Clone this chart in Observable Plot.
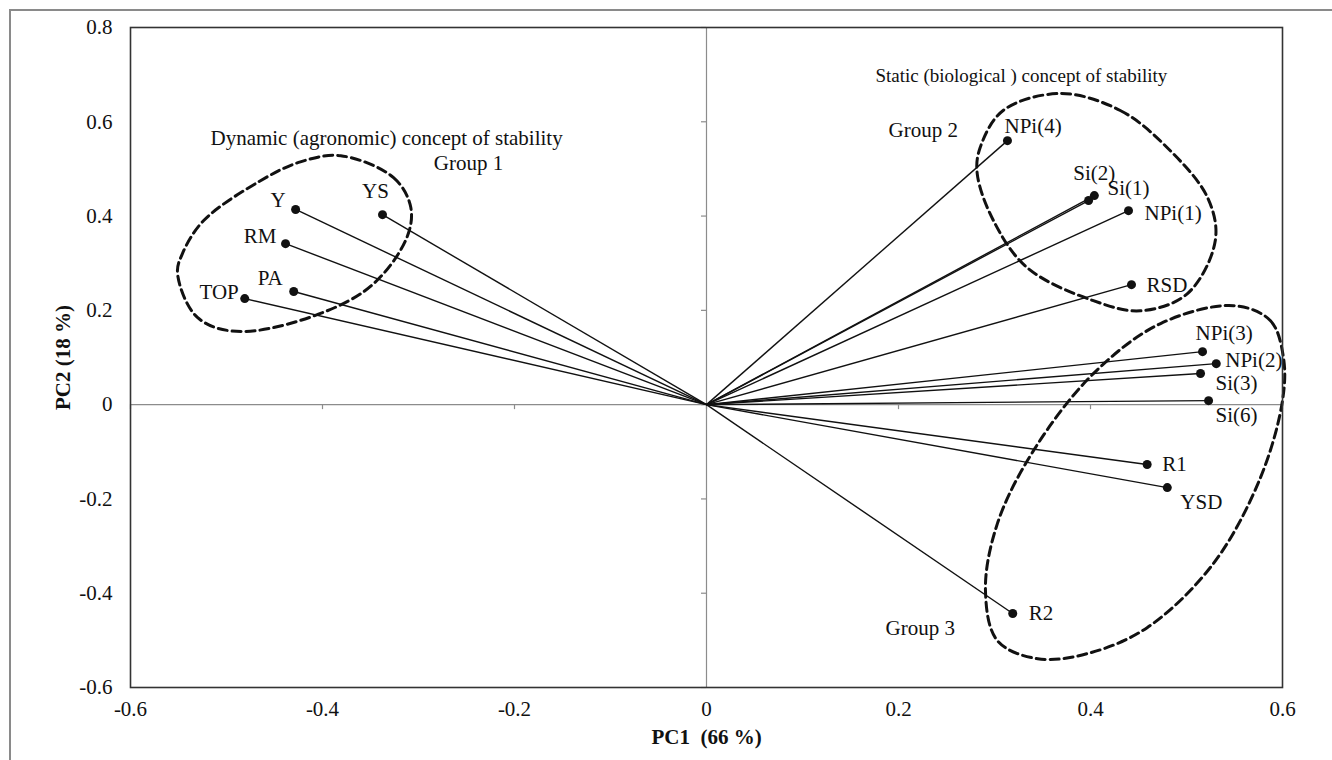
<!DOCTYPE html>
<html>
<head>
<meta charset="utf-8">
<script src="https://cdn.jsdelivr.net/npm/d3@7"></script>
<script src="https://cdn.jsdelivr.net/npm/@observablehq/plot@0.6"></script>
<style>
  html, body { margin: 0; padding: 0; background: #fff; overflow: hidden; }
  #wrap { position: relative; width: 1332px; height: 760px; }
  #border { position: absolute; left: 9px; top: 9px; width: 1400px; height: 800px;
            border-left: 2px solid #8a8a8a; border-top: 2px solid #8a8a8a; }
  #chart { position: absolute; left: 0; top: 0; }
</style>
</head>
<body>
<div id="wrap"><div id="border"></div><div id="chart"></div></div>
<script>
// ---- data ----
const names = ["Y","YS","RM","PA","TOP","NPi(4)","Si(2)","Si(1)","NPi(1)","RSD","NPi(3)","NPi(2)","Si(3)","Si(6)","R1","YSD","R2"];
const pc1 = [-0.428,-0.3375,-0.4385,-0.430,-0.481,0.3135,0.404,0.398,0.4396,0.4427,0.5167,0.531,0.5146,0.523,0.459,0.480,0.319];
const pc2 = [0.414,0.403,0.3415,0.240,0.225,0.560,0.4435,0.433,0.4115,0.2545,0.1124,0.087,0.066,0.0085,-0.127,-0.176,-0.443];

const xTicks = [-0.6,-0.4,-0.2,0,0.2,0.4,0.6];
const xTickLabels = ["-0.6","-0.4","-0.2","0","0.2","0.4","0.6"];
const yTicks = [-0.6,-0.4,-0.2,0,0.2,0.4,0.6,0.8];
const yTickLabels = ["-0.6","-0.4","-0.2","0","0.2","0.4","0.6","0.8"];

// group outlines (PC1, PC2)
const group1X = [-0.381,-0.326,-0.308,-0.3135,-0.360,-0.482,-0.530,-0.551,-0.546,-0.524,-0.4646,-0.423];
const group1Y = [0.528,0.4815,0.418,0.348,0.2355,0.155,0.1845,0.278,0.320,0.390,0.475,0.515];
const group2X = [0.3688,0.431,0.480,0.522,0.530,0.501,0.452,0.403,0.334,0.299,0.282,0.285,0.309];
const group2Y = [0.660,0.624,0.545,0.439,0.348,0.2355,0.199,0.2205,0.2906,0.390,0.490,0.545,0.624];
const group3X = [0.549,0.5875,0.601,0.600,0.577,0.528,0.459,0.397,0.345,0.303,0.2906,0.303,0.3406,0.403,0.473];
const group3Y = [0.210,0.178,0.0997,0.0085,-0.155,-0.337,-0.473,-0.528,-0.539,-0.5006,-0.3946,-0.2524,-0.0976,0.0658,0.172];

const noteTexts = ["Dynamic (agronomic) concept of stability","Group 1","Static (biological ) concept of stability","Group 2","Group 3"];
const noteX = [-0.5167,-0.284,0.176,0.1896,0.1865];
const noteY = [0.564,0.511,0.698,0.583,-0.475];
const noteSize = [21,21,19,21,21];

// ---- label placement (style) ----
const labelPlace = {
  "Y":["end",-10,-9], "YS":["middle",-7,-23], "RM":["end",-9,-7], "PA":["end",-11,-13], "TOP":["end",-6,-6],
  "NPi(4)":["start",-3,-14], "Si(2)":["start",-21,-22], "Si(1)":["start",19,-12], "NPi(1)":["start",16,3],
  "RSD":["start",15,1], "NPi(3)":["start",-7,-18], "NPi(2)":["start",9,-3], "Si(3)":["start",15,10],
  "Si(6)":["start",7,15], "R1":["start",15,0], "YSD":["start",13,15], "R2":["start",16,0]
};

const pts = names.map((n,i)=>({name:n, x:pc1[i], y:pc2[i]}));
const outline = (xs,ys)=>xs.map((x,i)=>({x, y:ys[i]}));
const groups = [outline(group1X,group1Y), outline(group2X,group2Y), outline(group3X,group3Y)];
const notes = noteTexts.map((t,i)=>({t, x:noteX[i], y:noteY[i], s:noteSize[i]}));

const ink = "#111";
const gray = "#8c8c8c";
const fs = 21;

const labelMarks = pts.map(p => {
  const [anchor, dx, dy] = labelPlace[p.name];
  return Plot.text([p], {x:"x", y:"y", text:"name", textAnchor:anchor, dx, dy, fill:ink, fontSize:fs, lineAnchor:"middle"});
});
const noteMarks = notes.map(n => Plot.text([n], {x:"x", y:"y", text:"t", textAnchor:"start", lineAnchor:"middle", fill:ink, fontSize:n.s}));

const chart = Plot.plot({
  width: 1332,
  height: 760,
  marginLeft: 130,
  marginRight: 50,
  marginTop: 27,
  marginBottom: 73,
  style: {fontFamily: "'Liberation Serif', 'Times New Roman', serif", fontSize: "21px", background: "transparent", color: ink},
  x: {domain: [-0.6, 0.6], label: null},
  y: {domain: [-0.6, 0.8], label: null},
  marks: [
    Plot.ruleY([0], {stroke: gray, strokeWidth: 1.2}),
    Plot.ruleX([0], {stroke: gray, strokeWidth: 1.2}),
    Plot.ruleX(xTicks, {x: d=>d, y1: 0, y2: 0, insetBottom: -5, stroke: gray, strokeWidth: 1.2}),
    Plot.ruleY(yTicks, {y: d=>d, x1: 0, x2: 0, insetLeft: -5, stroke: gray, strokeWidth: 1.2}),
    Plot.axisX({ticks: xTicks, tickFormat: d => xTickLabels[xTicks.indexOf(d)], tickSize: 0, tickPadding: 14, fontSize: fs, fill: ink}),
    Plot.axisY({ticks: yTicks, tickFormat: d => yTickLabels[yTicks.indexOf(d)], tickSize: 0, tickPadding: 18, fontSize: fs, fill: ink}),
    Plot.link(pts, {x1: () => 0, y1: () => 0, x2: "x", y2: "y", stroke: ink, strokeWidth: 1.4}),
    Plot.dot(pts, {x: "x", y: "y", r: 4.5, fill: ink, stroke: "none"}),
    ...groups.map(g => Plot.line(g, {x: "x", y: "y", curve: "catmull-rom-closed", stroke: ink, strokeWidth: 3, strokeDasharray: "9,5"})),
    ...labelMarks,
    ...noteMarks,
    Plot.text(["PC1  (66 %)"], {frameAnchor: "bottom", dy: 50, lineAnchor: "middle", fontWeight: "bold", fontSize: fs, fill: ink}),
    Plot.text(["PC2 (18 %)"], {frameAnchor: "left", dx: -67, rotate: -90, lineAnchor: "middle", textAnchor: "middle", fontWeight: "bold", fontSize: fs, fill: ink}),
    Plot.frame({stroke: "#333", strokeWidth: 1.6})
  ]
});
document.getElementById("chart").appendChild(chart);
</script>
</body>
</html>
